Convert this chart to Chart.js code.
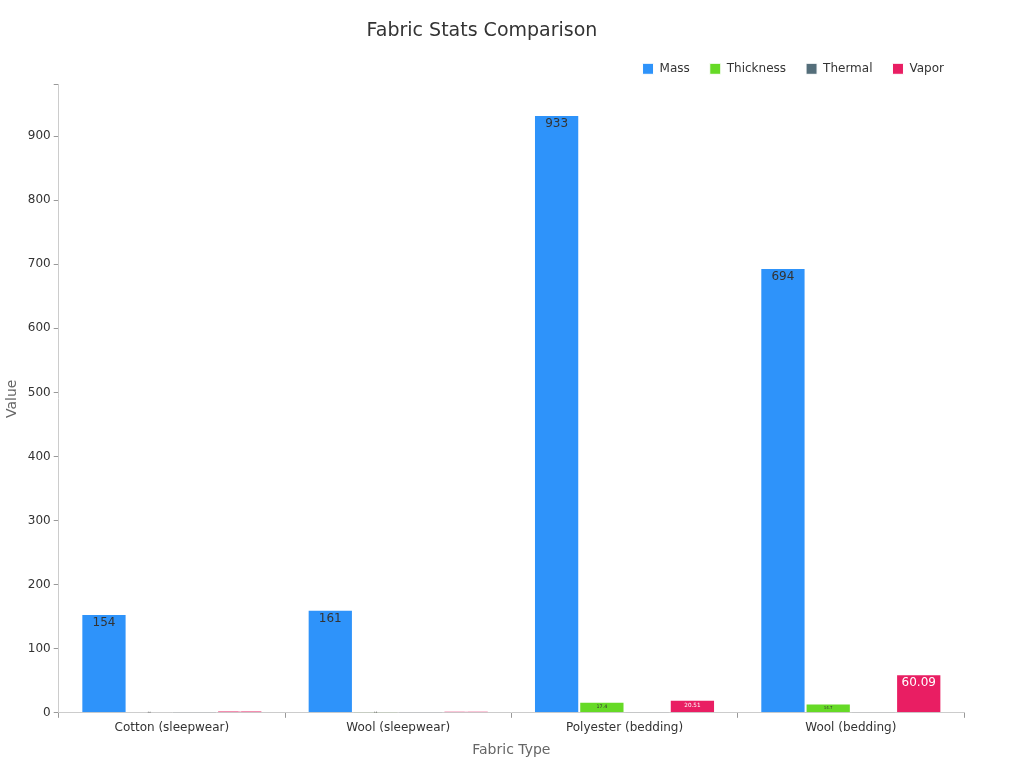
<!DOCTYPE html>
<html>
<head>
<meta charset="UTF-8" />
<script src="https://cdn.jsdelivr.net/npm/chart.js"></script>
<style>
  body { margin: 0; background: #fff; }
  #wrap { width: 1024px; height: 768px; }
</style>
</head>
<body>
<div id="wrap"><canvas id="chart"></canvas></div>
<script>
const categories = ['Cotton (sleepwear)', 'Wool (sleepwear)', 'Polyester (bedding)', 'Wool (bedding)'];
const mass = [154, 161, 933, 694];
const thickness = [0.6, 0.5, 17.4, 14.7];
const thermal = [0.04, 0.05, 0.3, 0.3];
const vapor = [3.6, 2.8, 20.51, 60.09];

Chart.defaults.font.family = "'DejaVu Sans', sans-serif";

const labelPlugin = {
  id: 'barLabels',
  afterDatasetsDraw(chart) {
    const ctx = chart.ctx;
    chart.data.datasets.forEach((ds, i) => {
      if (i === 2) return;
      chart.getDatasetMeta(i).data.forEach((bar, j) => {
        const h = bar.base - bar.y;
        const size = Math.max(2, Math.min(12, h * 0.45));
        ctx.save();
        ctx.font = size + "px 'DejaVu Sans'";
        ctx.textAlign = 'center';
        ctx.textBaseline = 'middle';
        ctx.fillStyle = i === 3 ? '#fff' : '#333';
        ctx.fillText(String(ds.data[j]), bar.x, bar.y + Math.min(9, h / 2));
        ctx.restore();
      });
    });
  }
};

new Chart(document.getElementById('chart'), {
  type: 'bar',
  data: {
    labels: categories,
    datasets: [
      { label: 'Mass', data: mass, backgroundColor: '#2E93FA' },
      { label: 'Thickness', data: thickness, backgroundColor: '#66DA26' },
      { label: 'Thermal', data: thermal, backgroundColor: '#546E7A' },
      { label: 'Vapor', data: vapor, backgroundColor: '#E91E63' }
    ].map(d => Object.assign(d, { borderColor: '#ffffff', borderWidth: 1, barPercentage: 1, categoryPercentage: 0.8 }))
  },
  options: {
    responsive: true,
    maintainAspectRatio: false,
    animation: false,
    layout: { padding: { left: 0, right: 60, top: 8, bottom: 5 } },
    plugins: {
      title: { display: true, text: 'Fabric Stats Comparison', color: '#333', font: { size: 19, weight: 'normal' }, padding: { top: 12, bottom: 0 } },
      legend: {
        align: 'end',
        labels: { boxWidth: 11, boxHeight: 11, padding: 20, color: '#333', font: { size: 12 } }
      },
      tooltip: { enabled: false }
    },
    scales: {
      x: {
        grid: { drawOnChartArea: false, tickLength: 5, color: '#999' },
        border: { color: '#ccc' },
        ticks: { color: '#333', font: { size: 12 } },
        title: { display: true, text: 'Fabric Type', color: '#666', font: { size: 14 } }
      },
      y: {
        min: 0, max: 980,
        grid: { drawOnChartArea: false, tickLength: 5, color: '#999' },
        border: { color: '#ccc' },
        ticks: { stepSize: 100, color: '#333', font: { size: 12 }, callback: v => v % 100 === 0 ? v : '' },
        title: { display: true, text: 'Value', color: '#666', font: { size: 14 } }
      }
    }
  },
  plugins: [labelPlugin]
});
</script>
</body>
</html>
